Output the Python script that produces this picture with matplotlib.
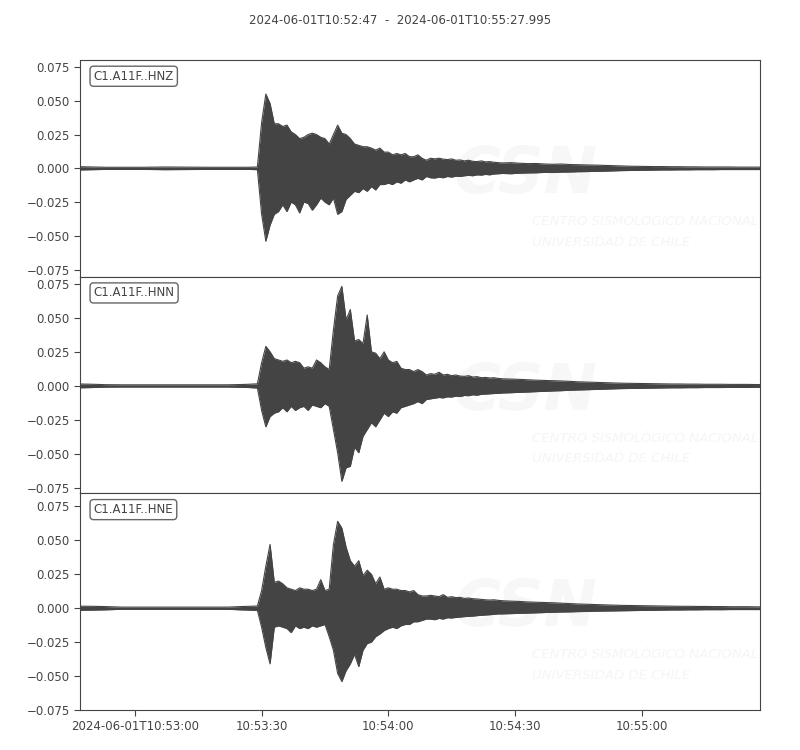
import numpy as np
import matplotlib
matplotlib.use("Agg")
import matplotlib.pyplot as plt

# seconds after 2024-06-01T10:52:47, envelope (m/s^2)
TIME = ([0, 3, 6, 10, 15, 20, 25, 30, 35, 38, 40, 41] + list(range(42, 100))
        + list(range(100, 162, 2)) + [161])

CHANNELS = ["C1.A11F..HNZ", "C1.A11F..HNN", "C1.A11F..HNE"]

HNZ_UP = [0.0012, 0.0010, 0.0008, 0.0008, 0.0008, 0.0010, 0.0009, 0.0008, 0.0008, 0.0008, 0.0008, 0.0009,
          0.0010, 0.034, 0.055, 0.048, 0.033, 0.033, 0.031, 0.032, 0.027, 0.025, 0.022, 0.023, 0.025, 0.026,
          0.025, 0.023, 0.022, 0.018, 0.025, 0.032, 0.026, 0.025, 0.022, 0.018, 0.017, 0.016, 0.016, 0.015,
          0.0135, 0.015, 0.012, 0.012, 0.010, 0.011, 0.010, 0.011, 0.0086, 0.0086, 0.010, 0.0074, 0.006,
          0.0075, 0.007, 0.0075, 0.0068, 0.0065, 0.007, 0.006, 0.0062, 0.0055, 0.006, 0.0052, 0.005, 0.0055,
          0.0048, 0.005, 0.0045, 0.0042,
          0.004, 0.0042, 0.0038, 0.0035, 0.0036, 0.0032, 0.003, 0.0032, 0.0028, 0.0027, 0.0025, 0.0024,
          0.0022, 0.002, 0.0018, 0.0016, 0.0015, 0.0014, 0.0013, 0.0013, 0.0012, 0.0012, 0.0011, 0.0011,
          0.001, 0.001, 0.001, 0.001, 0.0009, 0.0009, 0.0009, 0.0009]
HNZ_LO = [-0.0012, -0.0010, -0.0008, -0.0008, -0.0008, -0.0010, -0.0009, -0.0008, -0.0008, -0.0008, -0.0008, -0.0009,
          -0.0010, -0.034, -0.054, -0.042, -0.034, -0.032, -0.027, -0.032, -0.025, -0.027, -0.033, -0.025, -0.026,
          -0.031, -0.027, -0.022, -0.025, -0.027, -0.022, -0.034, -0.032, -0.023, -0.020, -0.017, -0.018, -0.015,
          -0.017, -0.0135, -0.016, -0.012, -0.012, -0.011, -0.012, -0.010, -0.011, -0.0086, -0.010, -0.0086,
          -0.0074, -0.0086, -0.006,
          -0.007, -0.0072, -0.0065, -0.007, -0.006, -0.0065, -0.0058, -0.006, -0.0055, -0.0052, -0.0055, -0.0048,
          -0.005, -0.0045, -0.0048, -0.0042, -0.004,
          -0.0038, -0.004, -0.0036, -0.0034, -0.0033, -0.003, -0.0031, -0.0028, -0.0027, -0.0025, -0.0024,
          -0.0022, -0.0021, -0.0019, -0.0017, -0.0016, -0.0015, -0.0014, -0.0013, -0.0012, -0.0012, -0.0011,
          -0.0011, -0.001, -0.001, -0.001, -0.0009, -0.0009, -0.0009, -0.0009, -0.0009, -0.0009]

HNN_UP = [0.0014, 0.0012, 0.0009, 0.0008, 0.0008, 0.0008, 0.0008, 0.0008, 0.0008, 0.0010, 0.0012, 0.0014,
          0.0015, 0.017, 0.029, 0.025, 0.020, 0.019, 0.018, 0.019, 0.017, 0.018, 0.017, 0.013, 0.014, 0.013,
          0.019, 0.017, 0.014, 0.012, 0.041, 0.066, 0.073, 0.0485, 0.056, 0.033, 0.034, 0.031, 0.052, 0.025,
          0.024, 0.020, 0.025, 0.019, 0.017, 0.018, 0.013, 0.012, 0.012, 0.0105, 0.012, 0.0105, 0.008,
          0.009, 0.0085, 0.010, 0.008, 0.0085, 0.0075, 0.008, 0.0072, 0.007, 0.0075, 0.0065, 0.0068, 0.006,
          0.0062, 0.0058, 0.006, 0.0055,
          0.0052, 0.005, 0.0048, 0.0045, 0.0042, 0.004, 0.0038, 0.0036, 0.0033, 0.003, 0.0028, 0.0026,
          0.0024, 0.0022, 0.002, 0.0019, 0.0018, 0.0017, 0.0016, 0.0015, 0.0014, 0.0014, 0.0013, 0.0013,
          0.0012, 0.0012, 0.0012, 0.0011, 0.0011, 0.0011, 0.001, 0.001]
HNN_LO = [-0.0014, -0.0012, -0.0009, -0.0008, -0.0008, -0.0008, -0.0008, -0.0008, -0.0008, -0.0010, -0.0012, -0.0014,
          -0.0015, -0.018, -0.030, -0.0225, -0.020, -0.019, -0.016, -0.019, -0.015, -0.018, -0.016, -0.015,
          -0.018, -0.014, -0.015, -0.016, -0.013, -0.015, -0.032, -0.049, -0.070, -0.060, -0.059, -0.045,
          -0.049, -0.037, -0.032, -0.027, -0.030, -0.025, -0.020, -0.0225, -0.019, -0.020, -0.016, -0.015,
          -0.014, -0.013, -0.0115, -0.013, -0.010,
          -0.0095, -0.009, -0.0085, -0.0088, -0.008, -0.0082, -0.0075, -0.0078, -0.007, -0.0072, -0.0065,
          -0.0068, -0.0062, -0.006, -0.0058, -0.0056, -0.0055,
          -0.0052, -0.005, -0.0047, -0.0045, -0.0042, -0.004, -0.0037, -0.0035, -0.0032, -0.003, -0.0028,
          -0.0026, -0.0024, -0.0022, -0.002, -0.0019, -0.0018, -0.0017, -0.0016, -0.0015, -0.0014, -0.0014,
          -0.0013, -0.0013, -0.0012, -0.0012, -0.0012, -0.0011, -0.0011, -0.0011, -0.001, -0.001]

HNE_UP = [0.0015, 0.0014, 0.0012, 0.0008, 0.0008, 0.0008, 0.0008, 0.0008, 0.0008, 0.0012, 0.0014, 0.0015,
          0.0016, 0.013, 0.031, 0.047, 0.019, 0.020, 0.018, 0.015, 0.014, 0.013, 0.015, 0.014, 0.014, 0.013,
          0.014, 0.021, 0.013, 0.014, 0.047, 0.064, 0.059, 0.045, 0.035, 0.031, 0.035, 0.024, 0.028, 0.025,
          0.018, 0.023, 0.014, 0.015, 0.014, 0.014, 0.013, 0.013, 0.012, 0.013, 0.010, 0.009, 0.009,
          0.0095, 0.009, 0.0085, 0.010, 0.008, 0.0085, 0.0078, 0.008, 0.0072, 0.0075, 0.007, 0.0068, 0.0065,
          0.0062, 0.006, 0.0062, 0.0058,
          0.0055, 0.0052, 0.005, 0.0046, 0.0044, 0.0042, 0.004, 0.0037, 0.0034, 0.0031, 0.0029, 0.0027,
          0.0025, 0.0023, 0.0021, 0.002, 0.0019, 0.0018, 0.0017, 0.0016, 0.0015, 0.0014, 0.0014, 0.0013,
          0.0013, 0.0012, 0.0012, 0.0011, 0.0011, 0.0011, 0.001, 0.001]
HNE_LO = [-0.0015, -0.0014, -0.0012, -0.0008, -0.0008, -0.0008, -0.0008, -0.0008, -0.0008, -0.0012, -0.0014, -0.0015,
          -0.0016, -0.014, -0.029, -0.041, -0.014, -0.013, -0.014, -0.015, -0.018, -0.013, -0.015, -0.014,
          -0.015, -0.013, -0.014, -0.013, -0.012, -0.021, -0.031, -0.048, -0.054, -0.046, -0.041, -0.034,
          -0.043, -0.031, -0.026, -0.025, -0.021, -0.019, -0.0165, -0.015, -0.014, -0.015, -0.013, -0.012,
          -0.012, -0.010, -0.010, -0.009, -0.008,
          -0.008, -0.0085, -0.0075, -0.008, -0.007, -0.0072, -0.0068, -0.0065, -0.0062, -0.006, -0.0058,
          -0.0055, -0.0052, -0.005, -0.0048, -0.0045, -0.0042,
          -0.0042, -0.004, -0.0038, -0.0036, -0.0034, -0.0032, -0.003, -0.0028, -0.0027, -0.0025, -0.0024,
          -0.0022, -0.0021, -0.002, -0.0019, -0.0018, -0.0017, -0.0016, -0.0015, -0.0014, -0.0013, -0.0013,
          -0.0012, -0.0012, -0.0011, -0.0011, -0.0011, -0.001, -0.001, -0.001, -0.001, -0.001]

ENVELOPES = [(HNZ_UP, HNZ_LO), (HNN_UP, HNN_LO), (HNE_UP, HNE_LO)]
Y_LIMITS = [(-0.0802, 0.0802), (-0.0788, 0.0801), (-0.075, 0.0846)]

TICK_SECONDS = [13, 43, 73, 103, 133]
TICK_LABELS = ["2024-06-01T10:53:00", "10:53:30", "10:54:00", "10:54:30", "10:55:00"]
T_END = 160.995
TITLE = "2024-06-01T10:52:47  -  2024-06-01T10:55:27.995"

GREY = "#444444"
FS = 8.5

plt.rcParams["font.family"] = ["DejaVu Sans"]
fig, axes = plt.subplots(3, 1, figsize=(8, 7.5), dpi=100, sharex=True)
fig.subplots_adjust(left=0.1, right=0.95, top=0.92, bottom=0.0533, hspace=0)
fig.suptitle(TITLE, fontsize=FS, color=GREY, y=0.981)

t = np.array(TIME, dtype=float)
for ax, name, (up, lo), ylim in zip(axes, CHANNELS, ENVELOPES, Y_LIMITS):
    up = np.array(up)
    lo = np.array(lo)
    # faint CSN watermark behind the trace
    ax.text(0.655, 0.47, "CSN", transform=ax.transAxes, ha="center", va="center",
            fontsize=46, fontweight="bold", style="italic", color="#f7f7f7", zorder=0, clip_on=True)
    ax.text(0.665, 0.255, "CENTRO SISMOLÓGICO NACIONAL", transform=ax.transAxes,
            fontsize=9.5, style="italic", color="#f5f5f5", va="center", zorder=0, clip_on=True)
    ax.text(0.665, 0.16, "UNIVERSIDAD DE CHILE", transform=ax.transAxes,
            fontsize=9.5, style="italic", color="#f5f5f5", va="center", zorder=0, clip_on=True)

    ax.fill_between(t, lo, up, color=GREY, lw=0, zorder=2)
    ax.plot(t, up, color=GREY, lw=0.8, zorder=2)
    ax.plot(t, lo, color=GREY, lw=0.8, zorder=2)

    ax.set_ylim(*ylim)
    ax.set_xlim(0, T_END)
    ax.set_yticks([-0.075, -0.05, -0.025, 0.0, 0.025, 0.05, 0.075])
    ax.yaxis.set_major_formatter(plt.FuncFormatter(lambda v, p: f"{v:.3f}".replace("-", "\u2212")))
    ax.tick_params(axis="y", labelsize=FS, labelcolor=GREY, color=GREY, length=4)
    ax.tick_params(axis="x", bottom=False, labelbottom=False)
    for s in ax.spines.values():
        s.set_color(GREY)
    ax.text(0.02, 0.955, name, transform=ax.transAxes, ha="left", va="top", fontsize=FS, color=GREY,
            bbox=dict(boxstyle="round,pad=0.3", fc="white", ec="#666666", lw=1), zorder=5)

axes[-1].set_xticks(TICK_SECONDS)
axes[-1].set_xticklabels(TICK_LABELS)
axes[-1].tick_params(axis="x", bottom=True, labelbottom=True, labelsize=FS, labelcolor=GREY,
                     color=GREY, length=4)

fig.savefig("out.png", dpi=100)
